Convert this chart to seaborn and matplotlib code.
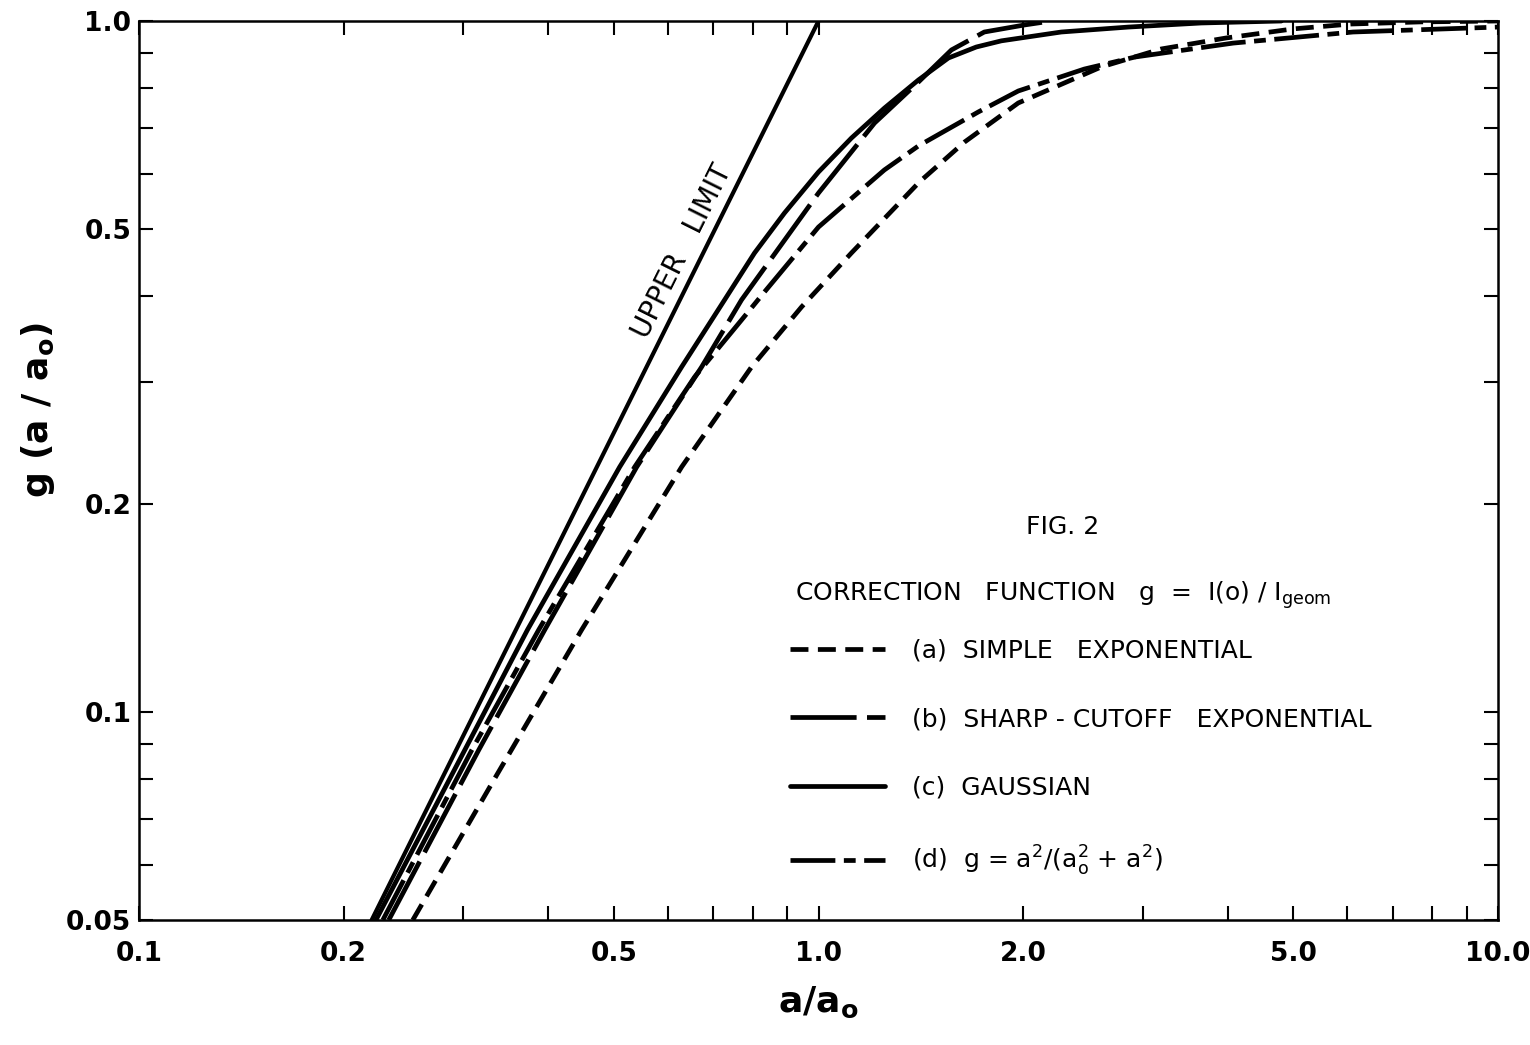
import matplotlib
matplotlib.use("Agg")
import matplotlib.pyplot as plt
import seaborn as sns

# Correction function g = I(0)/I_geom against a/a0 (log-log)

# upper limit g = (a/a0)^2
upper_a = [0.220, 1.0]
upper_g = [0.05, 1.0]

# (a) simple exponential
simple_a = [0.2529, 0.3362, 0.4482, 0.6288, 0.7969, 0.9441, 1.118, 1.408, 1.640,
            1.968, 2.607, 3.194, 3.98, 4.995, 6.08, 7.70, 10.0]
simple_g = [0.05, 0.0811, 0.1315, 0.2262, 0.3157, 0.3856, 0.4616, 0.585, 0.668,
            0.761, 0.858, 0.911, 0.945, 0.974, 0.990, 0.997, 1.0]

# (b) sharp-cutoff exponential
sharp_a = [0.2331, 0.3162, 0.3955, 0.5400, 0.6729, 0.7704, 1.0, 1.209, 1.403,
           1.569, 1.754, 2.009, 2.201]
sharp_g = [0.05, 0.0881, 0.1315, 0.2262, 0.3157, 0.3948, 0.5637, 0.7117, 0.816,
           0.908, 0.964, 0.9868, 1.0]

# (c) gaussian
gauss_a = [0.2232, 0.3016, 0.3730, 0.5097, 0.6288, 0.7274, 0.8051, 0.8913, 1.0,
           1.118, 1.250, 1.403, 1.553, 1.707, 1.858, 2.277, 2.857, 3.658, 4.80]
gauss_g = [0.05, 0.0881, 0.1315, 0.2262, 0.3157, 0.3948, 0.4616, 0.5275, 0.6046,
           0.677, 0.748, 0.8216, 0.884, 0.917, 0.936, 0.964, 0.980, 0.9934, 1.0]

# (d) g = a^2/(a0^2 + a^2)
ratio_a = [0.2285, 0.3089, 0.3875, 0.5363, 0.6572, 0.7704, 0.8329, 1.0, 1.250,
           1.403, 1.719, 1.968, 2.461, 2.925, 4.076, 6.12, 8.25, 10.0]
ratio_g = [0.05, 0.0881, 0.1315, 0.2262, 0.3054, 0.3692, 0.4055, 0.5033, 0.6087,
           0.6595, 0.7386, 0.792, 0.852, 0.887, 0.929, 0.964, 0.9737, 0.980]

x_major = [0.1, 0.2, 0.5, 1.0, 2.0, 5.0, 10.0]
x_major_labels = ["0.1", "0.2", "0.5", "1.0", "2.0", "5.0", "10.0"]
x_minor = [0.3, 0.4, 0.6, 0.7, 0.8, 0.9, 3, 4, 6, 7, 8, 9]
y_major = [0.05, 0.1, 0.2, 0.5, 1.0]
y_major_labels = ["0.05", "0.1", "0.2", "0.5", "1.0"]
y_minor = [0.06, 0.07, 0.08, 0.09, 0.3, 0.4, 0.6, 0.7, 0.8, 0.9]

legend_labels = [
    "(a)  SIMPLE   EXPONENTIAL",
    "(b)  SHARP - CUTOFF   EXPONENTIAL",
    "(c)  GAUSSIAN",
    "(d)  g = a$^\\mathregular{2}$/(a$_\\mathregular{o}^\\mathregular{2}$ + a$^\\mathregular{2}$)",
]

sns.set_theme(style="ticks")
plt.rcParams["font.family"] = ["DejaVu Sans"]
plt.rcParams["mathtext.fontset"] = "dejavusans"
plt.rcParams["text.color"] = "black"
plt.rcParams["axes.labelcolor"] = "black"
plt.rcParams["xtick.color"] = "black"
plt.rcParams["ytick.color"] = "black"

W, H = 1530, 1045
fig = plt.figure(figsize=(W / 100, H / 100), dpi=100)
fig.patch.set_facecolor("white")
ax = fig.add_axes([139 / W, 125 / H, 1359 / W, 899 / H])
ax.set_facecolor("white")
ax.set_xscale("log")
ax.set_yscale("log")

lw = 3.4
sns.lineplot(x=upper_a, y=upper_g, ax=ax, color="black", linewidth=3.0,
             estimator=None, sort=False, legend=False)
styles = [
    (simple_a, simple_g, (0, (3.8, 2.0))),
    (sharp_a, sharp_g, (0, (14.0, 2.2))),
    (gauss_a, gauss_g, "-"),
    (ratio_a, ratio_g, (0, (9.5, 1.8, 2.5, 1.8))),
]
handles = []
for a_vals, g_vals, ls in styles:
    sns.lineplot(x=a_vals, y=g_vals, ax=ax, color="black", linewidth=lw,
                 linestyle=ls, estimator=None, sort=False, legend=False)
    handles.append(ax.lines[-1])

ax.set_xlim(0.1, 10.0)
ax.set_ylim(0.05, 1.0)

ax.set_xticks(x_major, x_major_labels, fontsize=19, fontweight="bold")
ax.set_xticks(x_minor, minor=True)
ax.set_yticks(y_major, y_major_labels, fontsize=19, fontweight="bold")
ax.set_yticks(y_minor, minor=True)
ax.xaxis.set_minor_formatter(matplotlib.ticker.NullFormatter())
ax.yaxis.set_minor_formatter(matplotlib.ticker.NullFormatter())
ax.tick_params(which="both", direction="in", top=True, right=True,
               length=10, width=1.5, color="black", labelcolor="black")
ax.tick_params(axis="x", which="major", pad=15)
ax.tick_params(axis="y", which="major", pad=5.5)
for s in ax.spines.values():
    s.set_linewidth(1.8)
    s.set_color("black")

ax.set_xlabel("a/a$_\\mathregular{o}$", fontsize=26, fontweight="bold")
ax.xaxis.set_label_coords(0.5, -0.072)
ax.set_ylabel("g (a / a$_\\mathregular{o}$)", fontsize=26, fontweight="bold")
ax.yaxis.set_label_coords(-0.06, 0.567)

ax.text(0.631, 0.4647, "UPPER   LIMIT", rotation=63.5, rotation_mode="anchor",
        ha="center", va="center", fontsize=20, color="black")
ax.text(0.680, 0.437, "FIG. 2", transform=ax.transAxes, ha="center",
        va="center", fontsize=18, color="black")
ax.text(0.4827, 0.3615,
        "CORRECTION   FUNCTION   g  =  I(o) / I$_\\mathregular{geom}$",
        transform=ax.transAxes, ha="left", va="center", fontsize=18,
        color="black")

leg = ax.legend(handles, legend_labels, loc="upper left",
                bbox_to_anchor=(0.479, 0.313), frameon=False, fontsize=18,
                handlelength=3.8, handletextpad=1.1, labelspacing=1.78,
                borderpad=0, borderaxespad=0)
for t in leg.get_texts():
    t.set_color("black")

fig.savefig("out.png", dpi=100, facecolor="white")
